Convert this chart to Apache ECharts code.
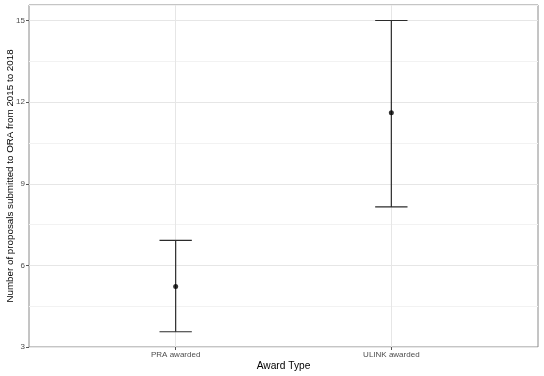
<!DOCTYPE html>
<html>
<head>
<meta charset="utf-8">
<script src="https://cdn.jsdelivr.net/npm/echarts@6/dist/echarts.min.js"></script>
<style>
  html, body { margin: 0; padding: 0; background: #fff; }
  #chart { width: 544px; height: 376px; }
</style>
</head>
<body>
<div id="chart"></div>
<script>
// values
const categories = ['PRA awarded', 'ULINK awarded']
const means = [5.22, 11.61]
const lower = [3.56, 8.15]
const upper = [6.92, 15.0]
const yTicks = [3, 6, 9, 12, 15]

const xPos = categories.map((c, i) => i + 1)
const capHalf = 0.075

const chart = echarts.init(document.getElementById('chart'))

const errData = categories.map((c, i) => [xPos[i], lower[i], upper[i]])
const pointData = categories.map((c, i) => [xPos[i], means[i]])

chart.setOption({
  animation: false,
  textStyle: { fontFamily: 'Liberation Sans, Arial, sans-serif' },
  grid: {
    left: 29, right: 6, top: 5, bottom: 29,
    outerBoundsMode: 'none',
    containLabel: false,
    show: true, borderColor: '#8a8a8a', borderWidth: 1, backgroundColor: '#fff'
  },
  xAxis: {
    type: 'value',
    min: 0.32,
    max: 2.68,
    name: 'Award Type',
    nameLocation: 'middle',
    nameGap: 14,
    nameMoveOverlap: false,
    nameTextStyle: { color: '#000', fontSize: 10.2 },
    axisLine: { show: false },
    axisTick: { show: true, length: 3, customValues: xPos, lineStyle: { color: '#555' } },
    axisLabel: {
      customValues: xPos,
      color: '#4d4d4d', fontSize: 8, margin: 4,
      formatter: v => categories[Math.round(v) - 1] || ''
    },
    splitLine: { show: true, lineStyle: { color: '#e6e6e6', width: 1 } }
  },
  yAxis: [
    {
      type: 'value',
      min: 3,
      max: 15.57,
      name: 'Number of proposals submitted to ORA from 2015 to 2018',
      nameLocation: 'middle',
      nameGap: 14,
      nameMoveOverlap: false,
      nameTextStyle: { color: '#000', fontSize: 9.8 },
      axisLine: { show: false },
      axisTick: { show: true, length: 3, customValues: yTicks, lineStyle: { color: '#555' } },
      axisLabel: { customValues: yTicks, color: '#4d4d4d', fontSize: 8, margin: 4 },
      splitLine: { show: true, lineStyle: { color: '#e6e6e6', width: 1 } }
    },
    {
      // minor grid lines only
      type: 'value',
      min: 3,
      max: 15.57,
      interval: 1.5,
      position: 'left',
      axisLine: { show: false },
      axisTick: { show: false },
      axisLabel: { show: false },
      splitLine: { show: true, lineStyle: { color: ['rgba(0,0,0,0)', '#f2f2f2'], width: 1 } }
    }
  ],
  series: [
    {
      type: 'custom',
      data: errData,
      z: 3,
      renderItem: (params, api) => {
        const x = api.value(0)
        const lo = api.coord([x, api.value(1)])
        const hi = api.coord([x, api.value(2)])
        const l1 = api.coord([x - capHalf, api.value(1)])
        const r1 = api.coord([x + capHalf, api.value(1)])
        const l2 = api.coord([x - capHalf, api.value(2)])
        const r2 = api.coord([x + capHalf, api.value(2)])
        const style = { stroke: '#2b2b2b', lineWidth: 1.2 }
        return {
          type: 'group',
          children: [
            { type: 'line', shape: { x1: lo[0], y1: lo[1], x2: hi[0], y2: hi[1] }, style },
            { type: 'line', shape: { x1: l1[0], y1: l1[1], x2: r1[0], y2: r1[1] }, style },
            { type: 'line', shape: { x1: l2[0], y1: l2[1], x2: r2[0], y2: r2[1] }, style }
          ]
        }
      }
    },
    {
      type: 'scatter',
      data: pointData,
      z: 4,
      symbol: 'circle',
      symbolSize: 5,
      itemStyle: { color: '#000' }
    }
  ]
})
</script>
</body>
</html>
